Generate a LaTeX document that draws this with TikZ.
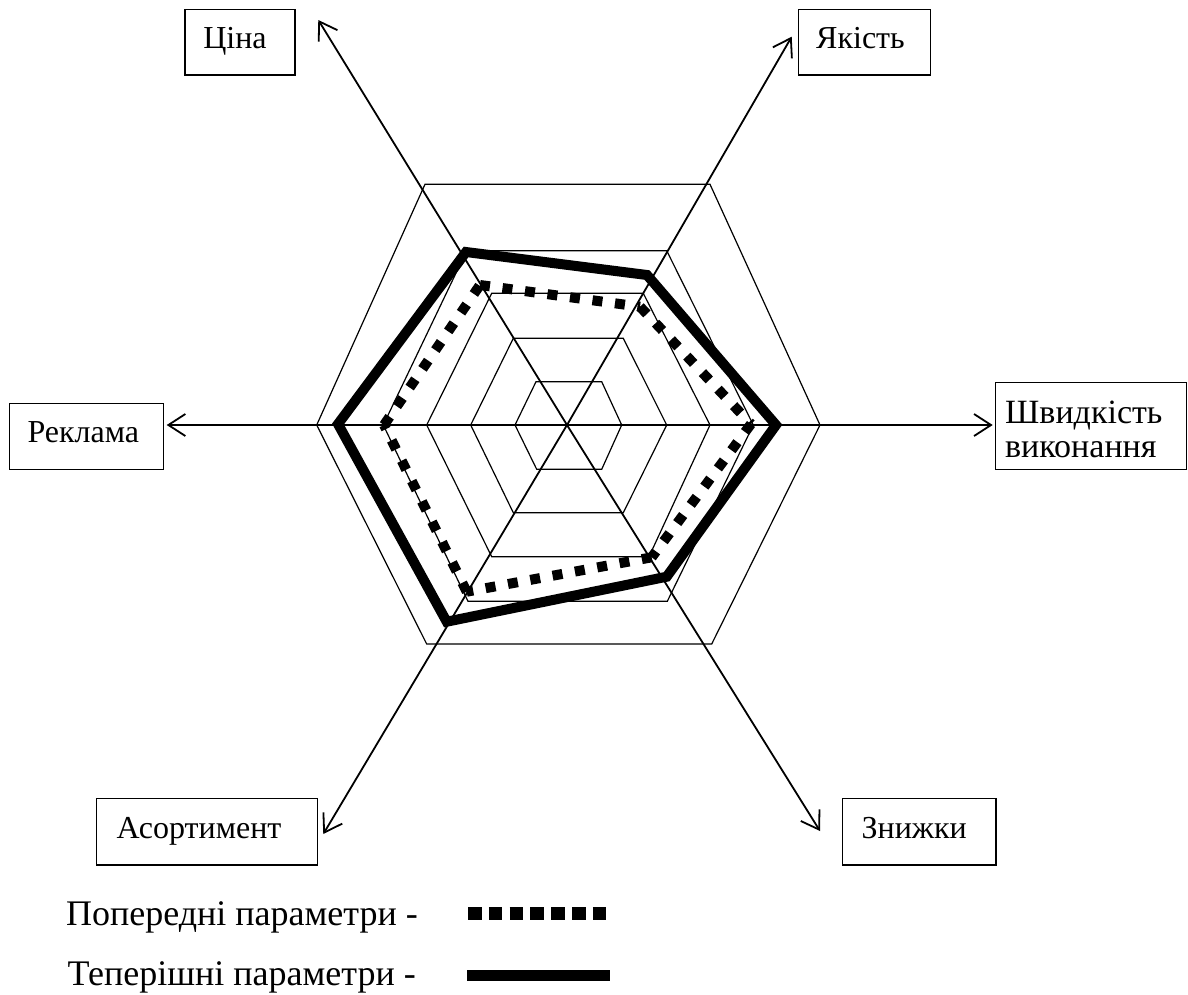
\documentclass[tikz,border=0pt]{standalone}
\usepackage{fontspec}
\setmainfont{Liberation Serif}
\usetikzlibrary{arrows.meta}
\begin{document}
\begin{tikzpicture}[x=1pt,y=-1pt,
  ring/.style={line width=1.2pt, line join=miter},
  axisarrow/.style={line width=1.8pt, -{Straight Barb[length=17pt,width=22pt,line width=1.8pt]}},
  labelbox/.style={draw, line width=1.3pt, rectangle, inner sep=0pt, font=\fontsize{32}{34}\selectfont, text height=23pt, text depth=10pt},
  labelbox2/.style={draw, line width=1.3pt, rectangle, inner sep=0pt, align=left, font=\fontsize{34}{34}\selectfont},
  legtext/.style={inner sep=0pt, font=\fontsize{36}{40}\selectfont},
  prevline/.style={line width=10pt, dash pattern=on 10pt off 12.7pt},
  currline/.style={line width=10pt, line join=miter},
  legdot/.style={line width=13pt, dash pattern=on 13.5pt off 7.3pt},
]
\useasboundingbox (0,0) rectangle (1188,994);
\fill[white] (0,0) rectangle (1188,994);

% rings
\draw[ring] (316.7,425) -- (425,184.3) -- (710,184.3) -- (820,425) -- (711.7,644) -- (426.7,644) -- cycle;
\draw[ring] (383.3,425) -- (466.7,250.7) -- (666.7,250.7) -- (753.3,425) -- (667.3,601.3) -- (468,601.3) -- cycle;
\draw[ring] (426.7,425) -- (491.7,293.3) -- (643.3,293.3) -- (710,425) -- (649,556.7) -- (491.7,556.7) -- cycle;
\draw[ring] (470.7,425) -- (513.3,338.3) -- (623.3,338.3) -- (666.7,425) -- (623.3,512.7) -- (513.3,512.7) -- cycle;
\draw[ring] (515,425) -- (536,381.7) -- (601.7,381.7) -- (621.7,425) -- (601.7,469.3) -- (536.7,469.3) -- cycle;

% label boxes
\node[labelbox, minimum width=110pt, minimum height=65.7pt] (cina) at (240,42.2) {Ціна\kern10pt};
\node[labelbox, minimum width=132.4pt, minimum height=65.7pt] (yakist) at (864.5,42.2) {Якість\kern8pt};
\node[labelbox, minimum width=154pt, minimum height=66pt] (reklama) at (86.3,436.3) {Реклама\kern6pt};
\node[labelbox2, minimum width=191pt, minimum height=86.6pt] (shvyd) at (1091.3,426) {\rule{0pt}{30pt}Швидкість\kern15pt\\виконання\kern15pt};
\node[labelbox, minimum width=220.6pt, minimum height=66.7pt] (asort) at (207,831.7) {Асортимент\kern16pt};
\node[labelbox, minimum width=153.7pt, minimum height=66.7pt] (znyzhky) at (919.2,831.7) {Знижки\kern10pt};

% axes
\coordinate (O) at (567,425);
\coordinate (tcina) at (318.3,20);
\coordinate (tyakist) at (791.7,36.7);
\coordinate (tshvyd) at (992.7,425);
\coordinate (tznyzhky) at (820,831);
\coordinate (tasort) at (323.3,834);
\coordinate (treklama) at (166.7,425);
\draw[axisarrow] (O) -- (tcina);
\draw[axisarrow] (O) -- (tyakist);
\draw[axisarrow] (O) -- (tshvyd);
\draw[axisarrow] (O) -- (tznyzhky);
\draw[axisarrow] (O) -- (tasort);
\draw[axisarrow] (O) -- (treklama);

% previous parameters (dotted)
\coordinate (p1) at (480,285);
\coordinate (p2) at (640,306.7);
\coordinate (p3) at (751,424);
\coordinate (p4) at (651.7,557.3);
\coordinate (p5) at (466.7,591.7);
\coordinate (p6) at (384,425);
\draw[prevline] (p1) -- (p2);
\draw[prevline] (p2) -- (p3);
\draw[prevline] (p3) -- (p4);
\draw[prevline] (p4) -- (p5);
\draw[prevline] (p5) -- (p6);
\draw[prevline] (p6) -- (p1);

% current parameters (solid)
\coordinate (c1) at (466,252);
\coordinate (c2) at (647,275);
\coordinate (c3) at (776,425);
\coordinate (c4) at (666.7,576.7);
\coordinate (c5) at (446.7,621.7);
\coordinate (c6) at (338,424);
\draw[currline] (c1) -- (c2) -- (c3) -- (c4) -- (c5) -- (c6) -- cycle;

% legend
\node[legtext, anchor=base east] (leg1) at (418,925) {Попередні параметри -};
\node[legtext, anchor=base east] (leg2) at (416,985) {Теперішні параметри -};
\coordinate (d1) at (468,913);
\coordinate (d2) at (613,913);
\draw[legdot] (d1) -- (d2);
\coordinate (s1) at (467,975);
\coordinate (s2) at (610,975);
\draw[line width=11pt] (s1) -- (s2);
\end{tikzpicture}
\end{document}
